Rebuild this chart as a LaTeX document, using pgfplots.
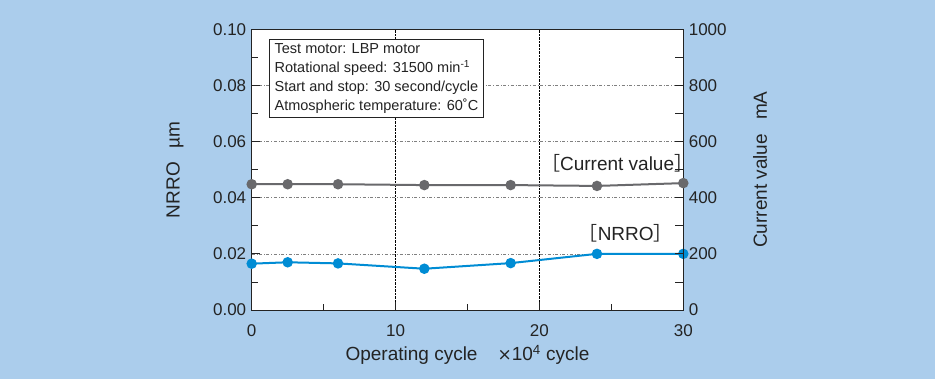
\documentclass[border=0pt]{standalone}
\usepackage{pgfplots}
\pgfplotsset{compat=1.18}
\usepackage{fontspec}
\setmainfont{Liberation Sans}
\newfontfamily\cjk{Noto Sans CJK JP}
\newfontfamily\dejavu{DejaVu Sans}
\definecolor{bg}{RGB}{171,205,236}
\definecolor{nblue}{RGB}{0,140,212}
\definecolor{cgray}{RGB}{105,105,108}
\definecolor{txt}{RGB}{35,35,35}
\pgfplotstableread{
x y
0 0.0165
2.5 0.0170
6 0.0166
12 0.0147
18 0.0167
24 0.0200
30 0.0200
}\nrro
\pgfplotstableread{
x y
0 448
2.5 448
6 448
12 445
18 445
24 442
30 452
}\current
\begin{document}
\begin{tikzpicture}[x=1pt,y=1pt]
\fill[bg] (-251.7,-69) rectangle (683.3,310);
\begin{axis}[
  at={(0,0)}, anchor=south west,
  scale only axis, width=431.6pt, height=280.7pt,
  xmin=0, xmax=30, ymin=0, ymax=0.1,
  axis background/.style={fill=white},
  axis line style={txt, line width=0.9pt},
  xtick={0,10,20,30}, minor xtick={5,15,25},
  ytick={0,0.02,0.04,0.06,0.08,0.1},
  minor ytick={0.01,0.03,0.05,0.07,0.09},
  xtick pos=bottom, ytick pos=left,
  tick align=inside,
  major tick length=8pt, minor tick length=6pt,
  tick style={txt, line width=0.8pt},
  xmajorgrids, ymajorgrids,
  x grid style={black, densely dotted, line width=0.6pt},
  y grid style={gray, dash dot, line width=0.7pt},
  yticklabel style={/pgf/number format/fixed, /pgf/number format/fixed zerofill, /pgf/number format/precision=2},
  /pgf/number format/assume math mode=true,
  tick label style={font=\fontsize{17}{20}\selectfont, text=txt},
  xticklabel style={yshift=-11pt},
  yticklabel style={xshift=-2pt},
  label style={font=\fontsize{19}{22}\selectfont, text=txt},
  xlabel={Operating cycle\hspace{20pt}{\dejavu\fontsize{17}{20}\selectfont ×}10\textsuperscript{4} cycle},
  xlabel style={at={(axis description cs:0.5,-0.160)}, anchor=center},
  ylabel={NRRO\hspace{14pt}µm},
  ylabel style={at={(axis description cs:-0.178,0.5)}, anchor=center},
  clip=false,
]
\addplot[nblue, line width=2pt, mark=*, mark size=4.2pt, mark options={solid}] table {\nrro};
\node[draw=txt, line width=0.8pt, fill=white, anchor=north west, align=left,
      inner xsep=5pt, inner ysep=4pt,
      font=\fontsize{14.5}{19}\selectfont, text=txt]
  at (axis cs:1.22,0.0964)
  {Test motor: LBP motor\\
   Rotational speed: 31500 min\textsuperscript{-1}\\
   Start and stop: 30 second/cycle\\
   Atmospheric temperature: 60˚C};
\node[font=\fontsize{19}{22}\selectfont, text=txt] at (axis cs:25.4,0.0524)
  {{\cjk ［}Current value{\cjk ］}};
\node[font=\fontsize{19}{22}\selectfont, text=txt] at (axis cs:26.0,0.0274)
  {{\cjk ［}NRRO{\cjk ］}};
\end{axis}
\begin{axis}[
  at={(0,0)}, anchor=south west,
  scale only axis, width=431.6pt, height=280.7pt,
  xmin=0, xmax=30, ymin=0, ymax=1000,
  axis x line=none,
  axis y line*=right,
  axis line style={txt, line width=0.9pt},
  ytick={0,200,400,600,800,1000},
  minor ytick={100,300,500,700,900},
  tick align=inside,
  major tick length=8pt, minor tick length=8pt,
  tick style={txt, line width=0.8pt},
  /pgf/number format/assume math mode=true,
  /pgf/number format/1000 sep={},
  tick label style={font=\fontsize{17}{20}\selectfont, text=txt},
  yticklabel style={xshift=2pt},
  label style={font=\fontsize{19}{22}\selectfont, text=txt},
  ylabel={Current value\hspace{14pt}mA},
  ylabel style={at={(axis description cs:1.178,0.5)}, anchor=center},
  clip=false,
]
\addplot[cgray, line width=2pt, mark=*, mark size=4.2pt, mark options={solid}] table {\current};
\end{axis}
\end{tikzpicture}
\end{document}
